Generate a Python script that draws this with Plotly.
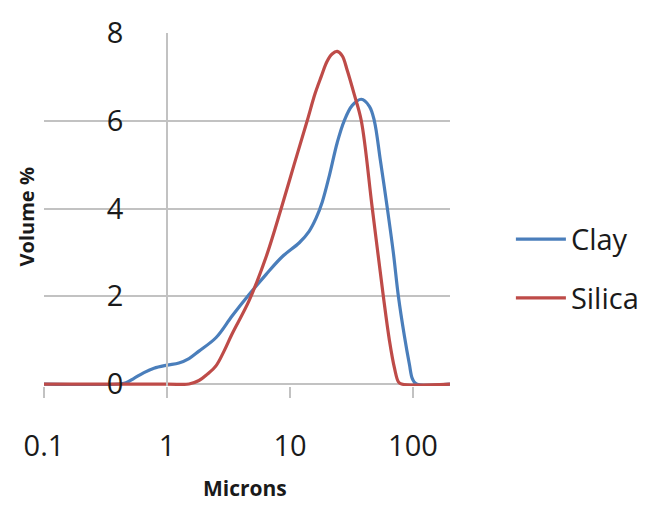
import plotly.graph_objects as go

# Data (particle size distribution)
clay_microns = [0.1, 0.406, 0.464, 0.539, 0.65, 0.784, 1.0, 1.25, 1.51, 1.82, 2.51, 3.38, 4.65,
                6.4, 8.64, 11.9, 14.3, 16.3, 18.3, 20.9, 24.2, 27.6, 32.1, 38.0, 44.2, 48.5,
                54.3, 61.9, 69.2, 76.1, 85.1, 93.5, 98.9, 106.6, 200]
clay_volume = [0, 0, 0.03, 0.13, 0.26, 0.36, 0.43, 0.48, 0.58, 0.75, 1.06, 1.55, 2.04,
               2.5, 2.9, 3.22, 3.48, 3.78, 4.15, 4.75, 5.5, 6.0, 6.35, 6.49, 6.33, 6.0,
               5.1, 4.0, 3.0, 2.0, 1.1, 0.45, 0.12, 0, 0]

silica_microns = [0.1, 1.0, 1.51, 1.82, 2.12, 2.51, 2.91, 3.38, 4.65, 6.4, 8.48, 10.8, 13.8,
                  16.0, 17.9, 20.0, 22.0, 24.2, 26.6, 29.2, 33.3, 38.0, 46.7, 57.4, 64.3, 70.9,
                  76.1, 80.7, 200]
silica_volume = [0, 0, 0, 0.08, 0.22, 0.42, 0.75, 1.14, 1.9, 2.9, 4.0, 5.0, 6.0,
                 6.62, 7.0, 7.35, 7.52, 7.58, 7.48, 7.15, 6.6, 6.0, 4.0, 2.0, 1.0, 0.35,
                 0.05, 0, 0]

x_tickvals = [0.1, 1, 10, 100]
x_ticktext = ["0.1", "1", "10", "100"]
y_tickvals = [0, 2, 4, 6, 8]

FONT = "Open Sans"
GRID = "#c2c2c2"

fig = go.Figure()
fig.add_trace(go.Scatter(x=clay_microns, y=clay_volume, mode="lines", name="Clay",
                         line=dict(color="#4A7EBB", width=3.2, shape="spline", smoothing=1.0),
                         legendgroup="a"))
fig.add_trace(go.Scatter(x=silica_microns, y=silica_volume, mode="lines", name="Silica",
                         line=dict(color="#BE4B48", width=3.2, shape="spline", smoothing=1.0),
                         legendgroup="b"))

fig.update_layout(
    width=662, height=509,
    margin=dict(l=44, r=212, t=28, b=123),
    paper_bgcolor="white", plot_bgcolor="white",
    font=dict(family=FONT, size=29, color="#1a1a1a"),
    showlegend=True,
    legend=dict(x=1.15, xanchor="left", y=0.332, yanchor="middle",
                font=dict(size=29), tracegroupgap=18, itemwidth=50,
                bgcolor="rgba(0,0,0,0)"),
    xaxis=dict(type="log", range=[-1, 2.301], tickvals=x_tickvals, ticktext=x_ticktext,
               showgrid=False, zeroline=False, showline=False,
               ticks="outside", ticklen=11, tickcolor=GRID, tickwidth=1.5,
               ticklabelstandoff=23, tickfont=dict(size=29)),
    yaxis=dict(range=[-0.045, 8], tickvals=y_tickvals, anchor="free", position=0.3029,
               showgrid=True, gridcolor=GRID, gridwidth=1.5,
               zeroline=True, zerolinecolor=GRID, zerolinewidth=1.5,
               showline=True, linecolor=GRID, linewidth=1.5,
               ticks="", ticklabelstandoff=37, tickfont=dict(size=29)),
    annotations=[
        dict(text="<b>Microns</b>", xref="paper", yref="paper", x=0.495, y=-0.29,
             xanchor="center", yanchor="middle", showarrow=False,
             font=dict(family=FONT, size=21, color="#1a1a1a")),
        dict(text="<b>Volume %</b>", xref="paper", yref="paper", x=-0.044, y=0.478,
             xanchor="center", yanchor="middle", showarrow=False, textangle=-90,
             font=dict(family=FONT, size=20, color="#1a1a1a")),
    ],
)

fig.write_html("out.html")
